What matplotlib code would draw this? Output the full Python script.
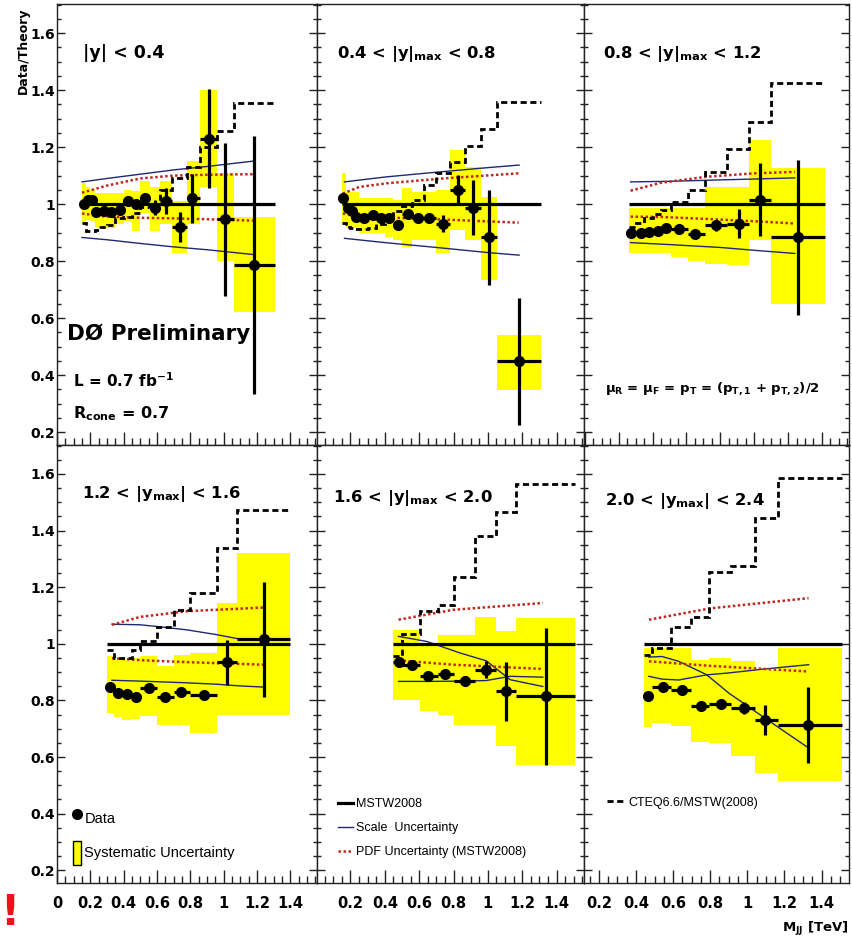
import numpy as np
import matplotlib.pyplot as plt
from matplotlib.lines import Line2D
from matplotlib.patches import Patch
from matplotlib.ticker import MultipleLocator, FuncFormatter

plt.rcParams['font.family'] = 'DejaVu Sans'
plt.rcParams['mathtext.fontset'] = 'custom'
plt.rcParams['mathtext.rm'] = 'DejaVu Sans:bold'
plt.rcParams['mathtext.it'] = 'DejaVu Sans:bold'
plt.rcParams['mathtext.bf'] = 'DejaVu Sans:bold'
plt.rcParams['mathtext.default'] = 'rm'

# ---- |y| < 0.4 ----
edges_1 = [0.15, 0.175, 0.2, 0.225, 0.25, 0.3, 0.35, 0.4, 0.45, 0.5, 0.56, 0.62, 0.69, 0.78, 0.86, 0.96, 1.06, 1.31]
mjj_1 = [0.16, 0.186, 0.212, 0.236, 0.28, 0.326, 0.376, 0.426, 0.476, 0.53, 0.59, 0.656, 0.736, 0.812, 0.91, 1.006, 1.18]
ratio_1 = [1.0, 1.016, 1.014, 0.973, 0.977, 0.973, 0.981, 1.01, 1.002, 1.022, 0.988, 1.01, 0.92, 1.02, 1.23, 0.947, 0.786]
stat_1 = [0.005, 0.005, 0.005, 0.006, 0.006, 0.007, 0.008, 0.009, 0.01, 0.012, 0.025, 0.045, 0.053, 0.085, 0.174, 0.268, 0.453]
sys_lo_1 = [0.935, 0.945, 0.94, 0.92, 0.915, 0.915, 0.93, 0.94, 0.905, 0.97, 0.905, 0.93, 0.83, 0.93, 1.06, 0.80, 0.62]
sys_hi_1 = [1.075, 1.06, 1.05, 1.04, 1.04, 1.04, 1.04, 1.05, 1.045, 1.08, 1.06, 1.08, 1.01, 1.15, 1.40, 1.11, 0.955]
cteq_1 = [0.935, 0.905, 0.905, 0.91, 0.92, 0.925, 0.95, 0.955, 0.97, 0.99, 1.0, 1.05, 1.09, 1.13, 1.2, 1.255, 1.355]
scale_x_1 = [0.15, 0.3, 0.5, 0.7, 0.9, 1.18]
scale_a_1 = [1.078, 1.09, 1.105, 1.12, 1.132, 1.151]
scale_b_1 = [0.883, 0.875, 0.862, 0.85, 0.84, 0.823]
pdf_x_1 = [0.15, 0.3, 0.5, 0.7, 0.9, 1.18]
pdf_up_1 = [1.04, 1.065, 1.09, 1.10, 1.103, 1.105]
pdf_dn_1 = [0.967, 0.956, 0.952, 0.95, 0.947, 0.942]

# ---- 0.4 < |y|max < 0.8 ----
edges_2 = [0.15, 0.175, 0.2, 0.225, 0.25, 0.3, 0.35, 0.4, 0.45, 0.5, 0.56, 0.63, 0.70, 0.78, 0.865, 0.96, 1.056, 1.308]
mjj_2 = [0.155, 0.184, 0.209, 0.233, 0.281, 0.329, 0.378, 0.426, 0.475, 0.533, 0.591, 0.659, 0.736, 0.824, 0.911, 1.008, 1.182]
ratio_2 = [1.023, 0.985, 0.977, 0.956, 0.95, 0.961, 0.95, 0.95, 0.926, 0.967, 0.95, 0.95, 0.932, 1.051, 0.988, 0.883, 0.449]
stat_2 = [0.005, 0.005, 0.005, 0.005, 0.006, 0.006, 0.007, 0.008, 0.009, 0.01, 0.012, 0.015, 0.03, 0.05, 0.097, 0.167, 0.223]
sys_lo_2 = [0.938, 0.915, 0.915, 0.915, 0.9, 0.9, 0.897, 0.885, 0.874, 0.85, 0.874, 0.874, 0.827, 0.909, 0.874, 0.733, 0.347]
sys_hi_2 = [1.108, 1.043, 1.043, 1.043, 1.02, 1.02, 1.02, 1.02, 1.014, 1.055, 1.043, 1.043, 1.049, 1.19, 1.131, 1.026, 0.54]
cteq_2 = [0.935, 0.92, 0.915, 0.911, 0.911, 0.915, 0.93, 0.95, 0.975, 0.995, 1.015, 1.067, 1.11, 1.146, 1.205, 1.263, 1.359]
scale_x_2 = [0.165, 0.4, 0.7, 1.0, 1.182]
scale_a_2 = [1.078, 1.095, 1.112, 1.128, 1.137]
scale_b_2 = [0.88, 0.865, 0.848, 0.83, 0.821]
pdf_x_2 = [0.155, 0.25, 0.41, 0.74, 1.18]
pdf_up_2 = [1.037, 1.06, 1.073, 1.09, 1.108]
pdf_dn_2 = [0.967, 0.958, 0.953, 0.946, 0.935]

# ---- 0.8 < |y|max < 1.2 ----
edges_3 = [0.26, 0.3, 0.35, 0.4, 0.45, 0.51, 0.61, 0.71, 0.84, 0.97, 1.1, 1.42]
mjj_3 = [0.271, 0.329, 0.378, 0.431, 0.482, 0.555, 0.653, 0.776, 0.908, 1.035, 1.261]
ratio_3 = [0.899, 0.899, 0.903, 0.905, 0.917, 0.911, 0.894, 0.926, 0.932, 1.016, 0.883]
stat_3 = [0.005, 0.005, 0.006, 0.007, 0.008, 0.01, 0.012, 0.02, 0.051, 0.129, 0.272]
sys_lo_3 = [0.83, 0.83, 0.83, 0.83, 0.83, 0.815, 0.80, 0.79, 0.786, 0.875, 0.651]
sys_hi_3 = [0.985, 0.985, 0.985, 0.985, 0.985, 0.985, 0.985, 1.061, 1.061, 1.225, 1.125]
cteq_3 = [0.92, 0.935, 0.95, 0.967, 0.98, 1.008, 1.049, 1.113, 1.195, 1.289, 1.426]
scale_x_3 = [0.27, 0.5, 0.8, 1.0, 1.24]
scale_a_3 = [1.078, 1.08, 1.085, 1.088, 1.092]
scale_b_3 = [0.865, 0.858, 0.848, 0.838, 0.827]
pdf_x_3 = [0.27, 0.45, 0.72, 1.0, 1.24]
pdf_up_3 = [1.047, 1.075, 1.096, 1.108, 1.113]
pdf_dn_3 = [0.956, 0.955, 0.948, 0.94, 0.932]

# ---- 1.2 < |ymax| < 1.6 ----
edges_4 = [0.3, 0.34, 0.39, 0.45, 0.5, 0.6, 0.7, 0.8, 0.96, 1.08, 1.4]
mjj_4 = [0.32, 0.366, 0.422, 0.472, 0.552, 0.65, 0.746, 0.88, 1.02, 1.24]
ratio_4 = [0.849, 0.826, 0.824, 0.812, 0.844, 0.811, 0.829, 0.82, 0.935, 1.016]
stat_4 = [0.006, 0.006, 0.007, 0.008, 0.009, 0.01, 0.012, 0.015, 0.08, 0.203]
sys_lo_4 = [0.755, 0.743, 0.73, 0.735, 0.745, 0.714, 0.714, 0.685, 0.75, 0.749]
sys_hi_4 = [0.955, 0.944, 0.944, 0.95, 0.955, 0.92, 0.96, 0.967, 1.144, 1.32]
cteq_4 = [0.979, 0.949, 0.949, 0.979, 1.008, 1.059, 1.12, 1.179, 1.338, 1.473]
scale_x_4 = [0.33, 0.5, 0.6, 0.78, 0.96, 1.1, 1.24]
scale_a_4 = [1.069, 1.067, 1.061, 1.049, 1.032, 1.016, 1.014]
scale_b_4 = [0.871, 0.868, 0.866, 0.862, 0.857, 0.851, 0.847]
pdf_x_4 = [0.33, 0.5, 0.78, 1.24]
pdf_up_4 = [1.067, 1.095, 1.115, 1.128]
pdf_dn_4 = [0.949, 0.942, 0.935, 0.926]

# ---- 1.6 < |y|max < 2.0 ----
edges_5 = [0.45, 0.5, 0.605, 0.71, 0.8, 0.925, 1.05, 1.166, 1.505]
mjj_5 = [0.48, 0.557, 0.654, 0.75, 0.867, 0.992, 1.108, 1.34]
ratio_5 = [0.934, 0.926, 0.887, 0.894, 0.868, 0.908, 0.832, 0.814]
stat_5 = [0.01, 0.012, 0.012, 0.015, 0.015, 0.03, 0.105, 0.241]
sys_lo_5 = [0.80, 0.80, 0.761, 0.749, 0.714, 0.714, 0.638, 0.573]
sys_hi_5 = [1.049, 1.049, 1.0, 1.032, 1.032, 1.096, 1.044, 1.09]
cteq_5 = [0.955, 1.035, 1.114, 1.138, 1.235, 1.381, 1.464, 1.564]
scale_x_5 = [0.48, 0.645, 0.84, 0.99, 1.13, 1.32]
scale_a_5 = [1.026, 1.008, 0.967, 0.94, 0.873, 0.849]
scale_b_5 = [0.867, 0.867, 0.868, 0.87, 0.885, 0.882]
pdf_x_5 = [0.48, 0.8, 1.32]
pdf_up_5 = [1.085, 1.12, 1.144]
pdf_dn_5 = [0.941, 0.926, 0.911]

# ---- 2.0 < |ymax| < 2.4 ----
edges_6 = [0.443, 0.489, 0.588, 0.696, 0.795, 0.913, 1.039, 1.166, 1.508]
mjj_6 = [0.467, 0.546, 0.647, 0.75, 0.859, 0.98, 1.093, 1.328]
ratio_6 = [0.814, 0.849, 0.838, 0.779, 0.788, 0.773, 0.732, 0.714]
stat_6 = [0.008, 0.01, 0.01, 0.012, 0.012, 0.02, 0.053, 0.135]
sys_lo_6 = [0.706, 0.72, 0.708, 0.652, 0.649, 0.602, 0.544, 0.514]
sys_hi_6 = [0.985, 0.985, 0.985, 0.944, 0.949, 0.938, 0.908, 0.985]
cteq_6 = [0.961, 0.985, 1.059, 1.096, 1.252, 1.275, 1.444, 1.587]
scale_x_6 = [0.47, 0.54, 0.63, 0.78, 0.9, 1.08, 1.33]
scale_a_6 = [0.953, 0.955, 0.938, 0.891, 0.826, 0.744, 0.632]
scale_b_6 = [0.885, 0.875, 0.872, 0.89, 0.897, 0.91, 0.926]
pdf_x_6 = [0.47, 0.8, 1.33]
pdf_up_6 = [1.085, 1.125, 1.161]
pdf_dn_6 = [0.938, 0.922, 0.902]

titles = [r'|y| < 0.4', r'0.4 < |y|$_{max}$ < 0.8', r'0.8 < |y|$_{max}$ < 1.2',
          r'1.2 < |y$_{max}$| < 1.6', r'1.6 < |y|$_{max}$ < 2.0', r'2.0 < |y$_{max}$| < 2.4']
title_size = [12.5, 11.8, 11.8, 11.8, 11.8, 11.8]

panels = [
    (edges_1, mjj_1, ratio_1, stat_1, sys_lo_1, sys_hi_1, cteq_1, scale_x_1, scale_a_1, scale_b_1, pdf_x_1, pdf_up_1, pdf_dn_1),
    (edges_2, mjj_2, ratio_2, stat_2, sys_lo_2, sys_hi_2, cteq_2, scale_x_2, scale_a_2, scale_b_2, pdf_x_2, pdf_up_2, pdf_dn_2),
    (edges_3, mjj_3, ratio_3, stat_3, sys_lo_3, sys_hi_3, cteq_3, scale_x_3, scale_a_3, scale_b_3, pdf_x_3, pdf_up_3, pdf_dn_3),
    (edges_4, mjj_4, ratio_4, stat_4, sys_lo_4, sys_hi_4, cteq_4, scale_x_4, scale_a_4, scale_b_4, pdf_x_4, pdf_up_4, pdf_dn_4),
    (edges_5, mjj_5, ratio_5, stat_5, sys_lo_5, sys_hi_5, cteq_5, scale_x_5, scale_a_5, scale_b_5, pdf_x_5, pdf_up_5, pdf_dn_5),
    (edges_6, mjj_6, ratio_6, stat_6, sys_lo_6, sys_hi_6, cteq_6, scale_x_6, scale_a_6, scale_b_6, pdf_x_6, pdf_up_6, pdf_dn_6),
]

YELLOW = '#ffff00'
SCALE_C = '#1f2870'
PDF_C = '#c0281e'
CTEQ_LS = (0, (2.2, 1.3))

W, H = 852, 940
fig = plt.figure(figsize=(W / 100, H / 100), dpi=100)

# panel frames in pixels: (left, right) and (top, bottom)
cols = [(57, 317), (317, 584), (584, 849)]
rows = [(4, 445), (445, 883)]
xlims = [(0, 1.56), (0.005, 1.56), (-0.005, 1.56), (0, 1.56), (0.005, 1.56), (0.12, 1.548)]
title_pos = [(0.10, 0.878), (0.075, 0.878), (0.072, 0.878), (0.096, 0.879), (0.06, 0.87), (0.079, 0.863)]

fmt = FuncFormatter(lambda v, p: f'{v:g}')
axes = []
for i, pan in enumerate(panels):
    r, c = divmod(i, 3)
    x0, x1 = cols[c]
    y0, y1 = rows[r]
    ax = fig.add_axes([x0 / W, 1 - y1 / H, (x1 - x0) / W, (y1 - y0) / H])
    axes.append(ax)
    edges, mjj, ratio, stat, slo, shi, cteq, sx, sa, sb, px, pup, pdn = pan
    edges = np.array(edges)
    slo = np.array(slo)
    shi = np.array(shi)

    # systematic uncertainty boxes
    ax.bar(edges[:-1], shi - slo, bottom=slo, width=np.diff(edges), align='edge',
           color=YELLOW, lw=0, zorder=1)
    # theory lines
    ax.hlines(1.0, edges[0], edges[-1], color='k', lw=2.3, zorder=4)
    ax.plot(sx, sa, color=SCALE_C, lw=1.0, zorder=3)
    ax.plot(sx, sb, color=SCALE_C, lw=1.0, zorder=3)
    ax.plot(px, pup, color=PDF_C, lw=1.8, ls=(0, (1, 1)), zorder=3)
    ax.plot(px, pdn, color=PDF_C, lw=1.8, ls=(0, (1, 1)), zorder=3)
    ax.stairs(cteq, edges, baseline=None, color='k', lw=2.0, ls=CTEQ_LS, zorder=3)
    # data with bin widths as horizontal bars
    mjj = np.array(mjj)
    xerr = [mjj - edges[:-1], edges[1:] - mjj]
    ax.errorbar(mjj, ratio, yerr=stat, xerr=xerr, fmt='o', color='k', ms=7,
                elinewidth=2.3, capsize=0, zorder=6)

    ax.set_xlim(*xlims[i])
    ax.set_ylim(0.155, 1.702)
    ax.xaxis.set_major_locator(MultipleLocator(0.2))
    ax.xaxis.set_minor_locator(MultipleLocator(0.05))
    ax.yaxis.set_major_locator(MultipleLocator(0.2))
    ax.yaxis.set_minor_locator(MultipleLocator(0.05))
    ax.xaxis.set_major_formatter(fmt)
    ax.yaxis.set_major_formatter(fmt)
    ax.tick_params(which='both', direction='in', right=True, top=False, width=1.0, colors='#222222')
    ax.tick_params(axis='x', which='major', length=9.5, pad=9)
    ax.tick_params(axis='x', which='minor', length=5)
    ax.tick_params(axis='y', which='major', length=6, pad=1.5)
    ax.tick_params(axis='y', which='minor', length=3)
    ax.tick_params(axis='x', labelsize=10.5, labelcolor='k')
    ax.tick_params(axis='y', labelsize=10, labelcolor='k')
    for lab in ax.get_xticklabels() + ax.get_yticklabels():
        lab.set_fontweight('bold')
    if r == 0:
        ax.tick_params(axis='x', labelbottom=False)
    if c != 0:
        ax.tick_params(axis='y', labelleft=False)
    for s in ax.spines.values():
        s.set_linewidth(1.0)
        s.set_color('#222222')

    tx, ty = title_pos[i]
    ax.text(tx, ty, titles[i], transform=ax.transAxes, fontsize=title_size[i],
            fontweight='bold', ha='left', va='baseline', zorder=8)

# annotations in the first and third panels
ax1 = axes[0]
ax1.text(0.038, 0.238, 'DØ Preliminary', transform=ax1.transAxes, fontsize=15.5,
         fontweight='bold', va='baseline', zorder=8)
ax1.text(0.062, 0.1315, r'L = 0.7 fb$^{-1}$', transform=ax1.transAxes, fontsize=11,
         fontweight='bold', va='baseline')
ax1.text(0.062, 0.061, r'R$_{cone}$ = 0.7', transform=ax1.transAxes, fontsize=11.5,
         fontweight='bold', va='baseline')
ax3 = axes[2]
ax3.text(0.079, 0.12, r'$\mu_{R}$ = $\mu_{F}$ = p$_{T}$ = (p$_{T,1}$ + p$_{T,2}$)/2',
         transform=ax3.transAxes, fontsize=9.5, fontweight='bold', va='baseline')

leg_font = {'family': 'Liberation Sans', 'size': 10.5}
axes[3].legend(
    handles=[Line2D([], [], marker='o', ls='none', color='k', ms=7),
             Patch(facecolor=YELLOW, edgecolor='k', lw=1.0)],
    labels=['Data', 'Systematic Uncertainty'], loc='upper left',
    bbox_to_anchor=(0.06, 0.176), frameon=False, handlelength=0.6, handleheight=2.2,
    handletextpad=0.2, labelspacing=0.7, borderpad=0, borderaxespad=0, prop=leg_font)

leg_font2 = {'family': 'Liberation Sans', 'size': 9}
axes[4].legend(
    handles=[Line2D([], [], color='k', lw=2.3),
             Line2D([], [], color=SCALE_C, lw=1.0),
             Line2D([], [], color=PDF_C, lw=1.8, ls=(0, (1, 1)))],
    labels=['MSTW2008', 'Scale  Uncertainty', 'PDF Uncertainty (MSTW2008)'],
    loc='upper left', bbox_to_anchor=(0.079, 0.193), frameon=False, handlelength=1.2,
    handletextpad=0.2, labelspacing=0.95, borderpad=0, borderaxespad=0, prop=leg_font2)

axes[5].legend(
    handles=[Line2D([], [], color='k', lw=2.0, ls=CTEQ_LS)],
    labels=['CTEQ6.6/MSTW(2008)'], loc='upper left', bbox_to_anchor=(0.087, 0.197),
    frameon=False, handlelength=1.45, handletextpad=0.25, borderpad=0, borderaxespad=0,
    prop=leg_font2)

fig.text(23 / W, 1 - 8 / H, 'Data/Theory', rotation=90, ha='center', va='top',
         fontsize=9, fontweight='bold')
fig.text(849 / W, 1 - 932 / H, r'M$_{JJ}$ [TeV]', ha='right', va='baseline',
         fontsize=9.5, fontweight='bold')
fig.text(0.5 / W, 1 - 913 / H, '!', color='#e8141b', fontsize=30, fontweight='bold',
         ha='left', va='center')

fig.savefig('out.png', dpi=100)
